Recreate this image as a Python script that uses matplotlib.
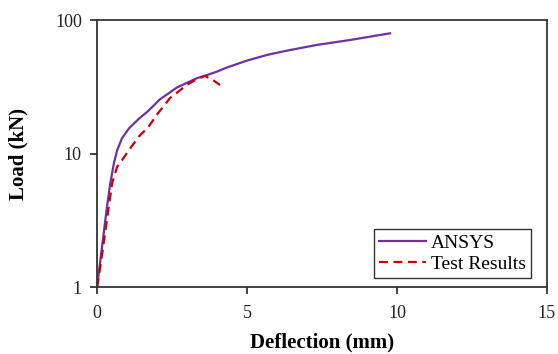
import matplotlib.pyplot as plt

# Load-deflection data
ansys_defl = [0.0, 0.11, 0.22, 0.33, 0.44, 0.56, 0.67, 0.83, 1.06, 1.39, 1.7, 2.1,
              2.66, 3.32, 3.66, 3.99, 4.32, 4.99, 5.66, 6.32, 7.32, 8.43, 9.77]
ansys_load = [1.0, 1.59, 2.52, 4.0, 5.98, 8.45, 10.6, 13.0, 15.4, 18.2, 20.8, 25.5,
              31.2, 36.6, 38.7, 41.0, 44.0, 49.6, 54.7, 58.9, 65.0, 70.8, 79.5]

test_defl = [0.0, 0.14, 0.28, 0.39, 0.5, 0.67, 0.83, 1.06, 1.39, 1.72, 1.99, 2.43,
             2.99, 3.32, 3.6, 3.82, 4.1]
test_load = [1.0, 1.59, 2.67, 4.0, 5.98, 7.97, 8.9, 10.6, 13.4, 15.9, 19.5, 26.0,
             32.6, 36.0, 38.1, 36.0, 32.6]

x_ticks = [0, 5, 10, 15]
y_ticks = [1, 10, 100]
y_tick_labels = ["1", "10", "100"]

plt.rcParams['font.family'] = ['Liberation Serif', 'DejaVu Serif']

fig = plt.figure(figsize=(5.58, 3.54), dpi=100)
ax = fig.add_axes([0.174, 0.189, 0.806, 0.7545])

ax.plot(ansys_defl, ansys_load, color='#7030A0', linewidth=1.6, label='ANSYS')
ax.plot(test_defl, test_load, color='#CC0000', linewidth=1.6, linestyle=(0, (4, 2.5)),
        label='Test Results')

ax.set_yscale('log')
ax.set_xlim(0, 15)
ax.set_ylim(1, 100)
ax.set_xticks(x_ticks)
ax.set_yticks(y_ticks)
ax.set_yticklabels(y_tick_labels)
ax.minorticks_off()
ax.tick_params(direction='out', length=5, width=1.2, labelsize=13, colors='#222222')
ax.tick_params(axis='x', pad=8)
ax.tick_params(axis='y', pad=6)
for s in ax.spines.values():
    s.set_color('#333333')
    s.set_linewidth(1.3)

ax.set_xlabel('Deflection (mm)', fontsize=15, fontweight='bold')
ax.set_ylabel('Load (kN)', fontsize=15, fontweight='bold')
ax.xaxis.set_label_coords(0.5, -0.17)
ax.yaxis.set_label_coords(-0.152, 0.5)

leg = ax.legend(loc='lower right', bbox_to_anchor=(0.964, 0.034), fontsize=14,
                frameon=True, fancybox=False, edgecolor='black', handlelength=2.4,
                handletextpad=0.25, borderpad=0.25, labelspacing=0.2, borderaxespad=0)
leg.get_frame().set_linewidth(1.0)

fig.savefig('out.png', dpi=100)
